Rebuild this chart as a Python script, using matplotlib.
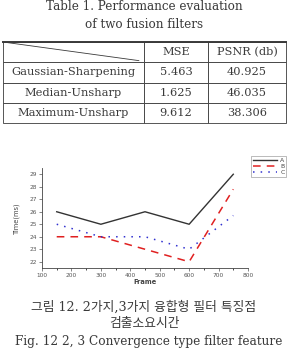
import matplotlib
matplotlib.use("Agg")
import matplotlib.pyplot as plt
from matplotlib.ticker import MultipleLocator

# table data
row_names = ["Gaussian-Sharpening", "Median-Unsharp", "Maximum-Unsharp"]
col_names = ["MSE", "PSNR (db)"]
mse = ["5.463", "1.625", "9.612"]
psnr = ["40.925", "46.035", "38.306"]

# chart data
frames = [150, 300, 450, 600, 750]
time_a = [26, 25, 26, 25, 29]
time_b = [24, 24, 23, 22, 27.8]
time_c = [25, 24, 24, 23, 25.7]

W, H = 288, 349
fig = plt.figure(figsize=(W / 100, H / 100), dpi=100)
serif = ["DejaVu Serif", "Noto Sans CJK KR"]
txt = "#3a3a3a"

fig.text(0.5, 1 - 7 / H, "Table 1. Performance evaluation", ha="center", va="center",
         family=serif, fontsize=8.6, color=txt)
fig.text(0.5, 1 - 25 / H, "of two fusion filters", ha="center", va="center",
         family=serif, fontsize=8.6, color=txt)

# table
tax = fig.add_axes([3 / W, 1 - 123 / H, 283 / W, 81 / H])
tax.set_axis_off()
cells = [["", col_names[0], col_names[1]]]
for name, m, p in zip(row_names, mse, psnr):
    cells.append([name, m, p])
tbl = tax.table(cellText=cells, colWidths=[141, 64, 78], cellLoc="center",
                bbox=[0, 0, 1, 1])
tbl.auto_set_font_size(False)
for (r, c), cell in tbl.get_celld().items():
    cell.set_linewidth(0.6)
    cell.set_edgecolor(txt)
    cell.get_text().set_fontfamily(serif)
    cell.get_text().set_fontsize(8.2)
    cell.get_text().set_color(txt)
tax.plot([0, 0.48], [1, 0.77], color=txt, lw=0.6, transform=tax.transAxes, clip_on=False)
tax.plot([0, 1], [1, 1], color=txt, lw=1.4, transform=tax.transAxes, clip_on=False)

# chart
ax = fig.add_axes([42 / W, 1 - 268 / H, 206 / W, 100 / H])
ax.plot(frames, time_a, color="#333333", lw=1.0, label="A")
ax.plot(frames, time_b, color="#e02020", lw=1.1, ls=(0, (5, 4)), label="B")
ax.plot(frames, time_c, color="#3030d0", lw=1.1, ls=(0, (1, 4)), label="C")
ax.set_xlim(100, 800)
ax.set_ylim(21.5, 29.5)
ax.xaxis.set_major_locator(MultipleLocator(100))
ax.xaxis.set_minor_locator(MultipleLocator(50))
ax.yaxis.set_major_locator(MultipleLocator(1))
for s in ["top", "right"]:
    ax.spines[s].set_visible(False)
for s in ["left", "bottom"]:
    ax.spines[s].set_linewidth(0.6)
    ax.spines[s].set_color("#444444")
ax.tick_params(labelsize=4.2, length=2, width=0.5, colors="#555555", pad=1.5)
ax.tick_params(which="minor", length=1.5, width=0.5)
ax.set_xlabel("Frame", fontsize=4.8, fontweight="bold", color="#444444", labelpad=1)
ax.set_ylabel("Time(ms)", fontsize=4.8, color="#444444", labelpad=7)
leg = ax.legend(loc="upper left", bbox_to_anchor=(1.0, 1.15), fontsize=4.4, frameon=True,
                fancybox=False, edgecolor="#888888", handlelength=4, borderpad=0.3,
                labelspacing=0.1, handletextpad=0.5)
leg.get_frame().set_linewidth(0.5)
for t in leg.get_texts():
    t.set_color("#444444")

fig.text(0.5, 1 - 307 / H, "그림 12. 2가지,3가지 융합형 필터 특징점", ha="center", va="center",
         family=serif, fontsize=9.2, color=txt)
fig.text(0.5, 1 - 324 / H, "검출소요시간", ha="center", va="center",
         family=serif, fontsize=9.2, color=txt)
fig.text(0.5 + 5 / W, 1 - 341 / H, "Fig. 12 2, 3 Convergence type filter feature",
         ha="center", va="center", family=serif, fontsize=8.7, color=txt)

fig.savefig("out.png", dpi=100)
